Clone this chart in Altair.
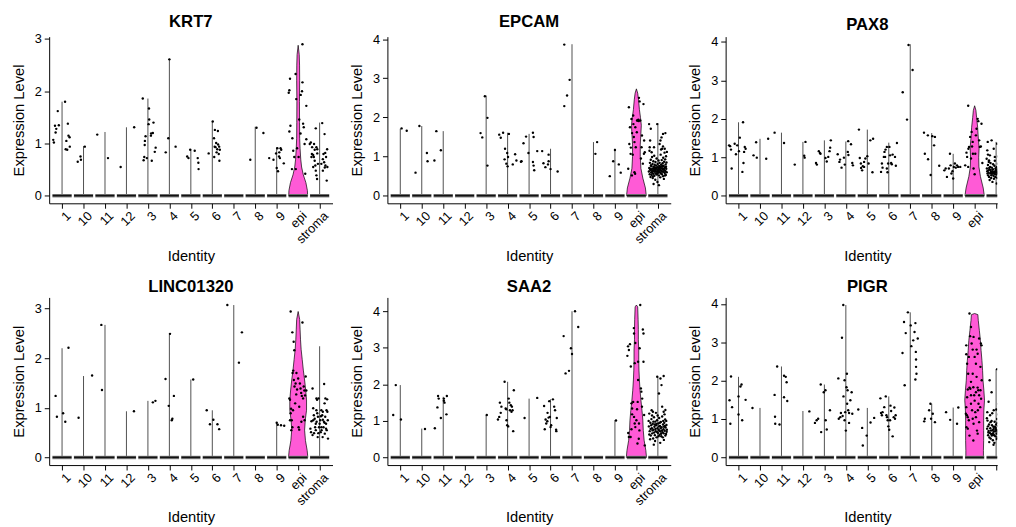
import altair as alt
import pandas as pd

GROUPS = ["1", "10", "11", "12", "3", "4", "5", "6", "7", "8", "9", "epi", "stroma"]
GENES = ["KRT7", "EPCAM", "PAX8", "LINC01320", "SAA2", "PIGR"]
EPI_COLOR = "#FF5AD6"

Y_TICKS = [[0, 1, 2, 3], [0, 1, 2, 3, 4], [0, 1, 2, 3, 4], [0, 1, 2, 3], [0, 1, 2, 3, 4], [0, 1, 2, 3, 4]]

# top of each group's (thin) violin, in GROUPS order
KRT7_MAX = [1.80, 0.95, 1.22, 1.31, 1.86, 2.62, 0.89, 1.43, 0.0, 1.32, 0.93, 2.88, 1.40]
EPCAM_MAX = [1.71, 1.78, 1.65, 0.0, 2.56, 1.61, 1.58, 1.20, 3.87, 1.37, 1.20, 2.73, 1.85]
PAX8_MAX = [1.91, 1.48, 1.64, 1.40, 1.44, 1.41, 1.72, 1.38, 3.94, 1.63, 1.09, 2.34, 1.40]
LINC_MAX = [2.20, 1.64, 2.67, 0.93, 1.14, 2.49, 1.57, 0.95, 3.07, 0.0, 0.70, 2.94, 2.24]
SAA2_MAX = [1.98, 0.79, 1.66, 0.0, 1.16, 2.07, 1.61, 1.59, 4.00, 0.0, 1.02, 4.17, 2.21]
PIGR_MAX = [2.10, 1.29, 2.37, 1.21, 1.90, 3.97, 1.29, 1.59, 3.78, 1.40, 1.30, 3.75, 2.30]

# epi violin outline: (expression, half width in group units)
KRT7_EPI = [(0, 0.44), (0.1, 0.43), (0.25, 0.36), (0.4, 0.24), (0.55, 0.16), (0.7, 0.12), (0.9, 0.09),
            (1.1, 0.07), (1.4, 0.065), (1.8, 0.06), (2.2, 0.07), (2.5, 0.065), (2.7, 0.05), (2.88, 0.0)]
EPCAM_EPI = [(0, 0.46), (0.2, 0.42), (0.45, 0.30), (0.7, 0.21), (1.0, 0.18), (1.3, 0.18), (1.6, 0.21),
             (1.8, 0.23), (2.0, 0.19), (2.2, 0.14), (2.45, 0.10), (2.62, 0.06), (2.73, 0.0)]
PAX8_EPI = [(0, 0.45), (0.2, 0.40), (0.5, 0.27), (0.75, 0.20), (1.0, 0.19), (1.25, 0.21), (1.5, 0.17),
            (1.78, 0.14), (2.04, 0.09), (2.22, 0.06), (2.34, 0.0)]
LINC_EPI = [(0, 0.45), (0.14, 0.42), (0.34, 0.34), (0.55, 0.30), (0.75, 0.33), (0.95, 0.39), (1.16, 0.39),
            (1.36, 0.35), (1.56, 0.30), (1.76, 0.24), (1.97, 0.19), (2.17, 0.14), (2.37, 0.11),
            (2.57, 0.09), (2.78, 0.07), (2.94, 0.0)]
SAA2_EPI = [(0, 0.47), (0.19, 0.44), (0.47, 0.36), (0.74, 0.32), (1.02, 0.30), (1.29, 0.26), (1.57, 0.21),
            (1.84, 0.17), (2.12, 0.14), (2.39, 0.12), (2.67, 0.11), (2.94, 0.11), (3.22, 0.09),
            (3.50, 0.09), (3.77, 0.08), (4.12, 0.06), (4.17, 0.0)]
PIGR_EPI = [(0, 0.41), (0.18, 0.41), (0.44, 0.42), (0.70, 0.42), (0.97, 0.42), (1.23, 0.43), (1.49, 0.46),
            (1.75, 0.43), (2.01, 0.39), (2.27, 0.37), (2.53, 0.34), (2.79, 0.30), (3.05, 0.27),
            (3.31, 0.22), (3.57, 0.17), (3.72, 0.15), (3.75, 0.0)]

# jittered cells: (group, jitter offset in group units, expression)
KRT7_PTS = [
    ("1", -0.41, 1.07), ("1", -0.38, 1.02), ("1", -0.33, 1.34), ("1", -0.30, 1.21), ("1", -0.27, 1.28),
    ("1", -0.20, 1.62), ("1", -0.15, 1.35), ("1", 0.14, 1.80), ("1", 0.20, 1.05), ("1", 0.24, 0.88),
    ("1", 0.27, 1.38), ("1", 0.30, 1.15), ("1", 0.35, 1.12), ("1", 0.17, 0.89), ("1", 0.36, 0.94),
    ("10", -0.27, 0.65), ("10", -0.14, 0.75), ("10", -0.12, 0.69), ("10", 0.06, 0.94),
    ("11", -0.36, 1.17), ("11", 0.14, 0.72),
    ("12", -0.27, 0.55), ("12", 0.36, 1.31),
    ("3", -0.24, 1.86), ("3", -0.20, 0.68), ("3", -0.17, 0.74), ("3", -0.15, 0.97), ("3", -0.14, 1.05),
    ("3", -0.11, 1.14), ("3", -0.05, 0.72), ("3", 0.05, 1.67), ("3", 0.06, 1.46), ("3", 0.03, 1.37),
    ("3", 0.14, 1.15), ("3", 0.18, 0.67), ("3", 0.23, 1.20), ("3", 0.26, 1.40), ("3", 0.32, 0.84),
    ("3", 0.36, 0.92), ("3", 0.15, 1.19),
    ("4", -0.17, 0.83), ("4", -0.05, 1.10), ("4", 0.0, 2.61), ("4", 0.29, 0.94),
    ("5", -0.17, 0.75), ("5", -0.11, 0.72), ("5", -0.03, 0.88), ("5", 0.18, 0.86), ("5", 0.32, 0.72),
    ("5", 0.35, 0.63), ("5", 0.36, 0.51),
    ("6", -0.17, 0.81), ("6", 0.02, 1.42), ("6", 0.08, 1.10), ("6", 0.09, 0.74), ("6", 0.12, 1.26),
    ("6", 0.15, 0.93), ("6", 0.18, 1.01), ("6", 0.20, 0.83), ("6", 0.23, 0.89), ("6", 0.26, 1.24),
    ("6", 0.30, 0.80), ("6", 0.32, 0.94), ("6", 0.33, 0.67), ("6", 0.35, 0.88), ("6", 0.11, 0.94),
    ("6", 0.27, 0.98),
    ("8", -0.23, 0.69), ("8", 0.06, 1.30), ("8", 0.38, 1.20),
    ("9", -0.35, 0.72), ("9", -0.15, 0.69), ("9", -0.03, 0.81), ("9", 0.03, 0.91), ("9", 0.06, 0.47),
    ("9", 0.11, 0.75), ("9", 0.15, 0.72), ("9", 0.18, 0.91), ("9", 0.21, 0.88), ("9", 0.33, 0.62),
    ("9", 0.12, 0.83), ("9", 0.0, 0.53),
    ("epi", -0.38, 2.24), ("epi", -0.41, 2.02), ("epi", -0.44, 1.97), ("epi", -0.36, 1.34), ("epi", -0.41, 1.23),
    ("epi", -0.27, 1.10), ("epi", -0.29, 0.51), ("epi", -0.12, 2.33), ("epi", -0.09, 1.85), ("epi", -0.05, 0.91),
    ("epi", 0.05, 1.46), ("epi", 0.12, 1.93), ("epi", 0.20, 2.90), ("epi", 0.20, 2.17), ("epi", 0.18, 2.00),
    ("epi", 0.23, 1.38), ("epi", 0.26, 1.31), ("epi", 0.30, 0.99), ("epi", 0.33, 0.42), ("epi", 0.38, 1.72),
    ("epi", 0.38, 1.08), ("epi", -0.23, 0.86), ("epi", -0.18, 0.74), ("epi", 0.02, 0.74), ("epi", 0.11, 1.19),
    ("epi", -0.11, 0.51),
    ("stroma", -0.46, 0.99), ("stroma", -0.41, 1.02), ("stroma", -0.35, 0.93), ("stroma", -0.30, 0.78),
    ("stroma", -0.27, 0.74), ("stroma", -0.23, 0.88), ("stroma", -0.20, 0.58), ("stroma", -0.18, 0.48),
    ("stroma", -0.15, 0.39), ("stroma", -0.12, 0.32), ("stroma", -0.11, 0.81), ("stroma", -0.18, 1.29),
    ("stroma", -0.08, 0.61), ("stroma", -0.30, 0.55), ("stroma", -0.23, 0.67), ("stroma", -0.36, 0.80),
    ("stroma", -0.11, 0.89), ("stroma", 0.12, 1.39), ("stroma", 0.15, 0.70), ("stroma", 0.18, 0.80),
    ("stroma", 0.21, 0.64), ("stroma", 0.23, 1.18), ("stroma", 0.26, 0.82), ("stroma", 0.27, 0.58),
    ("stroma", 0.30, 0.74), ("stroma", 0.33, 0.29), ("stroma", 0.35, 0.89), ("stroma", 0.15, 0.48),
    ("stroma", 0.08, 0.61), ("stroma", 0.24, 0.54), ("stroma", 0.36, 0.55), ("stroma", -0.38, 0.74),
    ("stroma", -0.26, 0.99), ("stroma", -0.15, 0.93),
]

EPCAM_PTS = [
    ("1", 0.06, 1.72), ("1", 0.30, 1.66),
    ("10", -0.29, 0.59), ("10", -0.11, 1.78), ("10", 0.24, 1.09), ("10", 0.27, 0.88),
    ("11", -0.41, 0.90), ("11", -0.32, 1.65), ("11", -0.11, 1.16),
    ("3", -0.26, 1.60), ("3", -0.18, 1.49), ("3", -0.06, 2.54), ("3", 0.06, 1.99), ("3", 0.06, 0.77),
    ("4", -0.39, 1.56), ("4", -0.32, 1.48), ("4", -0.21, 1.61), ("4", -0.12, 1.20), ("4", -0.14, 0.93),
    ("4", -0.06, 0.82), ("4", -0.02, 1.09), ("4", 0.0, 0.75), ("4", 0.02, 0.99), ("4", 0.06, 1.58),
    ("4", 0.24, 0.80), ("4", 0.35, 1.06), ("4", 0.41, 0.90),
    ("5", -0.26, 1.34), ("5", -0.14, 1.51), ("5", -0.03, 1.09), ("5", 0.18, 1.61), ("5", 0.21, 1.50),
    ("5", 0.18, 0.86), ("5", 0.21, 0.77), ("5", 0.24, 0.65), ("5", 0.38, 1.14), ("5", -0.38, 0.87),
    ("5", -0.35, 0.88),
    ("6", -0.39, 1.14), ("6", -0.33, 0.83), ("6", -0.24, 0.73), ("6", -0.12, 0.80), ("6", -0.09, 0.88),
    ("6", 0.0, 0.68), ("6", 0.33, 0.62), ("6", -0.09, 1.05),
    ("7", -0.36, 3.86), ("7", -0.36, 2.29), ("7", -0.23, 2.56), ("7", -0.11, 2.96),
    ("8", 0.09, 1.07), ("8", 0.17, 1.37),
    ("9", -0.24, 0.50), ("9", -0.08, 0.88), ("9", 0.0, 1.17), ("9", 0.18, 0.80), ("9", 0.27, 0.59),
    ("epi", -0.38, 0.69), ("epi", -0.35, 2.26), ("epi", -0.30, 1.75), ("epi", -0.33, 1.32), ("epi", -0.26, 1.23),
    ("epi", -0.23, 1.96), ("epi", -0.20, 1.60), ("epi", -0.17, 1.05), ("epi", -0.14, 1.83), ("epi", -0.12, 1.50),
    ("epi", -0.09, 1.37), ("epi", -0.06, 0.56), ("epi", -0.03, 1.24), ("epi", 0.02, 1.62), ("epi", 0.03, 1.92),
    ("epi", 0.06, 1.92), ("epi", 0.09, 1.94), ("epi", 0.11, 1.91), ("epi", 0.12, 2.50), ("epi", 0.15, 2.41),
    ("epi", 0.18, 1.92), ("epi", 0.21, 0.95), ("epi", 0.24, 1.24), ("epi", 0.30, 0.82), ("epi", 0.33, 2.34),
    ("epi", 0.35, 1.07), ("epi", 0.39, 1.11), ("epi", -0.27, 1.07), ("epi", -0.21, 0.52), ("epi", -0.09, 0.60),
    ("epi", 0.26, 1.54), ("epi", 0.36, 1.41), ("epi", -0.05, 1.75), ("epi", -0.15, 2.05),
    ("stroma", -0.41, 1.83), ("stroma", -0.33, 1.71), ("stroma", -0.36, 1.41), ("stroma", -0.38, 1.24),
    ("stroma", -0.29, 1.11), ("stroma", 0.24, 1.58), ("stroma", 0.35, 1.60), ("stroma", 0.12, 1.41),
    ("stroma", 0.08, 1.32), ("stroma", 0.17, 1.49), ("stroma", -0.03, 1.83), ("stroma", 0.20, 1.20),
    ("stroma", 0.24, 1.26), ("stroma", 0.32, 1.20), ("stroma", -0.18, 1.24),
    ("stroma", -0.42, 0.62), ("stroma", -0.40, 0.71), ("stroma", -0.38, 0.55), ("stroma", -0.37, 0.84),
    ("stroma", -0.35, 0.66), ("stroma", -0.34, 0.48), ("stroma", -0.33, 0.92), ("stroma", -0.31, 0.60),
    ("stroma", -0.30, 0.75), ("stroma", -0.29, 0.53), ("stroma", -0.28, 0.68), ("stroma", -0.27, 0.99),
    ("stroma", -0.26, 0.58), ("stroma", -0.25, 0.81), ("stroma", -0.24, 0.45), ("stroma", -0.23, 0.70),
    ("stroma", -0.22, 0.63), ("stroma", -0.21, 0.88), ("stroma", -0.20, 0.56), ("stroma", -0.19, 0.74),
    ("stroma", -0.18, 0.66), ("stroma", -0.17, 1.02), ("stroma", -0.16, 0.51), ("stroma", -0.15, 0.79),
    ("stroma", -0.14, 0.61), ("stroma", -0.13, 0.72), ("stroma", -0.12, 0.41), ("stroma", -0.11, 0.86),
    ("stroma", -0.10, 0.64), ("stroma", -0.09, 0.57), ("stroma", -0.08, 0.77), ("stroma", -0.07, 0.69),
    ("stroma", -0.06, 0.95), ("stroma", -0.05, 0.54), ("stroma", -0.04, 0.62), ("stroma", -0.03, 0.73),
    ("stroma", -0.02, 0.35), ("stroma", -0.01, 0.81), ("stroma", 0.00, 0.66), ("stroma", 0.01, 0.59),
    ("stroma", 0.02, 0.71), ("stroma", 0.03, 0.90), ("stroma", 0.04, 0.63), ("stroma", 0.05, 0.52),
    ("stroma", 0.06, 0.76), ("stroma", 0.07, 0.68), ("stroma", 0.08, 0.84), ("stroma", 0.09, 0.60),
    ("stroma", 0.10, 0.73), ("stroma", 0.11, 0.47), ("stroma", 0.12, 0.66), ("stroma", 0.13, 1.05),
    ("stroma", 0.14, 0.57), ("stroma", 0.15, 0.79), ("stroma", 0.16, 0.64), ("stroma", 0.17, 0.70),
    ("stroma", 0.18, 0.91), ("stroma", 0.19, 0.55), ("stroma", 0.20, 0.74), ("stroma", 0.21, 0.62),
    ("stroma", 0.22, 0.83), ("stroma", 0.23, 0.68), ("stroma", 0.24, 0.50), ("stroma", 0.25, 0.97),
    ("stroma", 0.26, 0.61), ("stroma", 0.27, 0.76), ("stroma", 0.28, 0.43), ("stroma", 0.29, 0.87),
    ("stroma", 0.30, 0.65), ("stroma", 0.31, 1.10), ("stroma", 0.32, 0.58), ("stroma", 0.33, 0.72),
    ("stroma", 0.34, 0.93), ("stroma", 0.35, 0.63), ("stroma", 0.36, 0.80), ("stroma", 0.37, 0.53),
    ("stroma", 0.38, 1.01), ("stroma", 0.39, 0.69), ("stroma", 0.40, 0.85), ("stroma", 0.41, 0.60),
    ("stroma", 0.42, 1.12), ("stroma", -0.32, 0.78), ("stroma", -0.22, 0.49), ("stroma", -0.12, 0.68),
    ("stroma", -0.02, 0.58), ("stroma", 0.08, 0.71), ("stroma", 0.18, 0.62), ("stroma", 0.28, 0.69),
    ("stroma", -0.27, 0.63), ("stroma", -0.07, 0.56), ("stroma", 0.13, 0.74), ("stroma", 0.33, 0.52),
    ("stroma", -0.17, 0.70), ("stroma", 0.03, 0.64), ("stroma", 0.23, 0.77), ("stroma", -0.37, 0.69),
    ("stroma", 0.38, 0.74), ("stroma", 0.05, 0.27), ("stroma", -0.20, 0.30), ("stroma", 0.15, 1.18),
    ("stroma", -0.39, 1.15),
]

PAX8_PTS = [
    ("1", -0.44, 1.31), ("1", -0.39, 1.29), ("1", -0.35, 1.20), ("1", -0.32, 0.71), ("1", -0.18, 1.35),
    ("1", -0.12, 1.08), ("1", -0.06, 1.31), ("1", 0.02, 1.16), ("1", 0.06, 1.51), ("1", 0.21, 1.91),
    ("1", 0.18, 0.62), ("1", 0.23, 0.85), ("1", 0.26, 1.14), ("1", 0.29, 1.27), ("1", 0.33, 1.22),
    ("10", -0.30, 1.05), ("10", -0.18, 1.39), ("10", -0.15, 0.99), ("10", 0.29, 0.96), ("10", 0.38, 1.48),
    ("11", -0.32, 1.64), ("11", 0.12, 1.37),
    ("12", -0.38, 0.81), ("12", 0.06, 1.04), ("12", 0.08, 0.99), ("12", 0.12, 1.40),
    ("3", -0.39, 0.85), ("3", -0.35, 0.81), ("3", -0.26, 1.16), ("3", -0.21, 1.11), ("3", -0.18, 1.09),
    ("3", 0.05, 0.98), ("3", 0.11, 0.89), ("3", 0.18, 1.01), ("3", 0.27, 1.25), ("3", 0.30, 1.44),
    ("3", 0.24, 1.16),
    ("4", -0.38, 1.08), ("4", -0.30, 0.88), ("4", -0.27, 0.94), ("4", -0.20, 0.73), ("4", -0.09, 0.99),
    ("4", -0.05, 0.81), ("4", 0.09, 1.14), ("4", 0.11, 1.42), ("4", 0.12, 1.06), ("4", 0.24, 1.34),
    ("4", 0.30, 0.85), ("4", 0.33, 0.79),
    ("5", -0.39, 1.72), ("5", -0.35, 0.98), ("5", -0.29, 0.72), ("5", -0.24, 0.66), ("5", -0.21, 0.77),
    ("5", -0.15, 0.88), ("5", -0.09, 0.97), ("5", 0.0, 1.03), ("5", 0.06, 0.84), ("5", 0.14, 1.44),
    ("5", 0.24, 0.61), ("5", 0.27, 1.48), ("5", -0.30, 0.84), ("5", -0.15, 0.75),
    ("6", -0.36, 0.62), ("6", -0.32, 0.84), ("6", -0.29, 0.73), ("6", -0.23, 1.01), ("6", -0.20, 1.14),
    ("6", -0.15, 1.20), ("6", -0.09, 0.71), ("6", -0.06, 0.61), ("6", -0.03, 0.84), ("6", 0.03, 1.27),
    ("6", 0.06, 1.05), ("6", 0.11, 0.85), ("6", 0.14, 0.82), ("6", 0.18, 1.07), ("6", 0.29, 1.01),
    ("6", 0.33, 0.78), ("6", 0.38, 1.37), ("6", -0.17, 1.01), ("6", -0.09, 1.27),
    ("7", -0.35, 2.69), ("7", -0.15, 1.98), ("7", -0.08, 3.92), ("7", 0.11, 3.27),
    ("8", -0.36, 1.64), ("8", -0.32, 1.09), ("8", -0.17, 0.95), ("8", -0.18, 1.57), ("8", -0.05, 0.54),
    ("8", 0.03, 1.55), ("8", 0.11, 1.31), ("8", 0.15, 1.53), ("8", 0.35, 0.78),
    ("9", -0.41, 0.66), ("9", -0.35, 0.71), ("9", -0.29, 0.49), ("9", -0.20, 0.71), ("9", -0.15, 1.09),
    ("9", -0.08, 0.58), ("9", -0.03, 0.64), ("9", 0.03, 0.75), ("9", 0.08, 0.84), ("9", 0.12, 0.73),
    ("9", 0.18, 0.79), ("9", 0.23, 0.75), ("9", 0.33, 0.75), ("9", -0.12, 0.79), ("9", 0.0, 0.45),
    ("epi", -0.44, 0.79), ("epi", -0.38, 1.12), ("epi", -0.35, 1.01), ("epi", -0.30, 2.34), ("epi", -0.29, 1.22),
    ("epi", -0.26, 1.27), ("epi", -0.21, 1.53), ("epi", -0.17, 0.97), ("epi", -0.14, 1.66), ("epi", -0.12, 1.28),
    ("epi", -0.08, 1.09), ("epi", -0.05, 0.71), ("epi", 0.0, 0.56), ("epi", 0.03, 1.09), ("epi", 0.06, 1.57),
    ("epi", 0.09, 1.74), ("epi", 0.14, 2.00), ("epi", 0.17, 1.94), ("epi", 0.21, 1.44), ("epi", 0.24, 1.27),
    ("epi", 0.29, 1.28), ("epi", 0.32, 1.87), ("epi", 0.36, 0.85), ("epi", -0.09, 1.40), ("epi", -0.30, 0.75),
    ("stroma", -0.41, 1.18), ("stroma", -0.33, 0.92), ("stroma", -0.38, 1.07), ("stroma", 0.05, 1.35),
    ("stroma", 0.15, 1.29), ("stroma", 0.27, 1.27), ("stroma", -0.21, 1.44), ("stroma", -0.11, 1.22),
    ("stroma", -0.06, 1.01), ("stroma", -0.39, 1.40),
    ("stroma", -0.40, 0.58), ("stroma", -0.36, 0.66), ("stroma", -0.12, 0.52), ("stroma", 0.22, 0.61),
    ("stroma", 0.05, 0.47), ("stroma", -0.28, 0.75), ("stroma", 0.31, 0.55), ("stroma", -0.05, 0.63),
    ("stroma", 0.14, 0.70), ("stroma", -0.33, 0.49), ("stroma", 0.38, 0.64), ("stroma", -0.19, 0.57),
    ("stroma", 0.09, 0.83), ("stroma", -0.24, 0.62), ("stroma", 0.26, 0.50), ("stroma", -0.02, 0.56),
    ("stroma", 0.18, 0.59), ("stroma", -0.38, 0.80), ("stroma", 0.34, 0.72), ("stroma", -0.15, 0.69),
    ("stroma", 0.02, 0.74), ("stroma", -0.30, 0.41), ("stroma", 0.11, 0.45), ("stroma", -0.08, 0.78),
    ("stroma", 0.29, 0.66), ("stroma", -0.22, 0.53), ("stroma", 0.20, 0.78), ("stroma", -0.43, 0.71),
    ("stroma", 0.07, 0.60), ("stroma", -0.10, 0.44), ("stroma", 0.36, 0.58), ("stroma", -0.26, 0.85),
    ("stroma", 0.16, 0.52), ("stroma", -0.35, 0.60), ("stroma", 0.24, 0.88), ("stroma", -0.01, 0.67),
    ("stroma", -0.17, 0.36), ("stroma", 0.32, 0.48), ("stroma", 0.12, 0.63), ("stroma", -0.31, 0.68),
    ("stroma", 0.04, 0.55), ("stroma", -0.06, 0.91), ("stroma", 0.27, 0.62), ("stroma", -0.20, 0.73),
    ("stroma", 0.40, 0.54), ("stroma", -0.13, 0.60), ("stroma", 0.19, 0.43), ("stroma", -0.37, 0.53),
    ("stroma", 0.08, 0.69), ("stroma", -0.27, 0.58), ("stroma", 0.35, 0.81), ("stroma", -0.04, 0.49),
    ("stroma", 0.23, 0.70), ("stroma", -0.16, 0.64), ("stroma", 0.13, 0.57), ("stroma", -0.41, 0.64),
    ("stroma", 0.30, 0.60), ("stroma", -0.09, 0.57), ("stroma", 0.01, 0.61), ("stroma", -0.23, 0.46),
    ("stroma", 0.17, 0.66), ("stroma", -0.32, 0.72), ("stroma", 0.25, 0.56), ("stroma", -0.14, 0.82),
    ("stroma", 0.06, 0.65), ("stroma", 0.33, 0.40), ("stroma", -0.25, 0.67), ("stroma", 0.10, 0.58),
    ("stroma", -0.03, 0.71), ("stroma", 0.21, 0.51), ("stroma", -0.18, 0.60), ("stroma", 0.37, 0.69),
    ("stroma", -0.07, 0.62), ("stroma", 0.15, 0.95), ("stroma", -0.34, 0.88), ("stroma", 0.28, 0.98),
    ("stroma", 0.03, 0.32), ("stroma", -0.29, 1.05), ("stroma", 0.10, 1.02), ("stroma", -0.44, 0.96),
]

LINC_PTS = [
    ("1", -0.30, 1.24), ("1", -0.24, 0.82), ("1", 0.05, 0.89), ("1", 0.15, 0.72), ("1", 0.30, 2.21),
    ("10", -0.23, 0.80), ("10", 0.40, 1.65),
    ("11", -0.14, 1.36), ("11", -0.17, 2.67),
    ("12", 0.35, 0.93),
    ("3", 0.23, 1.11), ("3", 0.35, 1.14),
    ("4", -0.18, 1.58), ("4", -0.03, 1.04), ("4", 0.03, 2.49), ("4", 0.14, 0.78), ("4", 0.11, 0.75),
    ("4", 0.21, 1.24),
    ("5", 0.11, 1.57),
    ("6", -0.26, 0.95), ("6", -0.11, 0.67), ("6", 0.05, 0.76), ("6", 0.24, 0.67), ("6", 0.32, 0.57),
    ("7", -0.30, 3.07), ("7", 0.24, 1.91), ("7", 0.38, 2.52),
    ("9", 0.0, 0.70), ("9", 0.05, 0.66), ("9", 0.20, 0.65), ("9", 0.35, 0.64),
    ("epi", -0.35, 2.94), ("epi", -0.27, 2.52), ("epi", -0.21, 2.33), ("epi", -0.18, 2.16), ("epi", -0.23, 1.75),
    ("epi", -0.26, 1.70), ("epi", -0.20, 1.56), ("epi", -0.17, 1.43), ("epi", -0.12, 1.49), ("epi", -0.41, 1.19),
    ("epi", -0.38, 1.16), ("epi", -0.35, 0.89), ("epi", -0.30, 0.75), ("epi", -0.27, 0.61), ("epi", -0.33, 0.98),
    ("epi", -0.24, 0.95), ("epi", -0.09, 1.27), ("epi", -0.05, 1.37), ("epi", 0.0, 1.59), ("epi", 0.05, 1.02),
    ("epi", 0.02, 0.61), ("epi", 0.05, 0.56), ("epi", 0.08, 1.49), ("epi", 0.11, 1.39), ("epi", 0.14, 1.30),
    ("epi", 0.17, 1.24), ("epi", 0.20, 2.72), ("epi", 0.23, 1.19), ("epi", 0.26, 1.43), ("epi", 0.29, 1.35),
    ("epi", 0.32, 1.25), ("epi", 0.35, 1.63), ("epi", 0.38, 1.35), ("epi", 0.30, 0.75), ("epi", 0.23, 0.82),
    ("epi", -0.14, 1.09), ("epi", -0.08, 1.70), ("epi", -0.38, 0.75), ("epi", -0.32, 0.55), ("epi", 0.15, 0.72),
    ("stroma", -0.43, 0.58), ("stroma", -0.40, 0.51), ("stroma", -0.33, 1.39), ("stroma", -0.30, 0.99),
    ("stroma", -0.27, 0.85), ("stroma", -0.23, 0.78), ("stroma", -0.21, 0.61), ("stroma", -0.18, 0.68),
    ("stroma", -0.15, 1.19), ("stroma", -0.12, 1.16), ("stroma", -0.11, 0.89), ("stroma", -0.09, 0.41),
    ("stroma", -0.06, 0.49), ("stroma", -0.03, 0.61), ("stroma", -0.14, 0.72), ("stroma", -0.18, 0.55),
    ("stroma", -0.26, 0.49), ("stroma", -0.05, 1.19), ("stroma", 0.0, 0.68), ("stroma", 0.03, 0.75),
    ("stroma", 0.06, 0.83), ("stroma", 0.08, 0.61), ("stroma", 0.09, 0.55), ("stroma", 0.12, 0.85),
    ("stroma", 0.14, 0.41), ("stroma", 0.15, 0.92), ("stroma", 0.18, 0.61), ("stroma", 0.20, 0.72),
    ("stroma", 0.21, 1.48), ("stroma", 0.23, 1.09), ("stroma", 0.24, 0.48), ("stroma", 0.26, 0.82),
    ("stroma", 0.27, 1.19), ("stroma", 0.30, 0.68), ("stroma", 0.32, 0.95), ("stroma", 0.33, 0.55),
    ("stroma", 0.35, 1.17), ("stroma", 0.38, 0.75), ("stroma", 0.39, 0.38), ("stroma", 0.36, 0.92),
    ("stroma", -0.15, 0.95), ("stroma", -0.08, 0.82), ("stroma", -0.33, 0.45), ("stroma", -0.30, 0.75),
    ("stroma", 0.08, 0.95), ("stroma", 0.15, 0.76), ("stroma", 0.05, 0.51), ("stroma", -0.38, 0.73),
    ("stroma", 0.23, 0.70), ("stroma", 0.30, 0.58),
]

SAA2_PTS = [
    ("1", -0.33, 1.16), ("1", -0.21, 1.98), ("1", 0.03, 1.04),
    ("10", 0.15, 0.78),
    ("11", -0.39, 0.80), ("11", -0.27, 1.37), ("11", -0.24, 1.68), ("11", -0.21, 1.61), ("11", -0.11, 1.08),
    ("11", 0.03, 1.55), ("11", 0.06, 1.50), ("11", 0.15, 1.18), ("11", 0.17, 1.68), ("11", 0.03, 1.61),
    ("3", 0.03, 1.16),
    ("4", -0.45, 1.04), ("4", -0.39, 1.11), ("4", -0.36, 1.50), ("4", -0.32, 1.22), ("4", -0.29, 1.39),
    ("4", -0.14, 2.07), ("4", -0.09, 1.34), ("4", -0.05, 1.02), ("4", -0.02, 0.88), ("4", 0.03, 0.85),
    ("4", 0.05, 1.61), ("4", 0.08, 1.50), ("4", 0.11, 1.29), ("4", 0.15, 1.43), ("4", 0.18, 1.25),
    ("4", 0.20, 1.39), ("4", 0.23, 1.29), ("4", 0.26, 0.72), ("4", 0.29, 1.84), ("4", -0.06, 1.32),
    ("5", -0.21, 1.08), ("5", 0.38, 1.63),
    ("6", -0.30, 1.41), ("6", -0.27, 0.77), ("6", -0.23, 1.04), ("6", -0.20, 0.93), ("6", -0.15, 0.99),
    ("6", -0.09, 1.09), ("6", -0.06, 1.54), ("6", -0.03, 1.11), ("6", 0.03, 0.88), ("6", 0.11, 1.59),
    ("6", 0.17, 1.39), ("6", 0.21, 1.29), ("6", 0.26, 0.76), ("6", 0.27, 0.72), ("6", 0.29, 1.08),
    ("6", 0.0, 0.83), ("6", -0.14, 1.22),
    ("7", -0.39, 3.32), ("7", -0.30, 2.30), ("7", -0.14, 2.37), ("7", -0.05, 2.99), ("7", 0.0, 2.83),
    ("7", 0.14, 4.00), ("7", 0.29, 3.57),
    ("9", 0.05, 1.01),
    ("epi", -0.42, 2.78), ("epi", -0.39, 3.04), ("epi", -0.35, 2.94), ("epi", -0.30, 3.10), ("epi", -0.26, 2.49),
    ("epi", -0.23, 1.48), ("epi", -0.20, 1.34), ("epi", -0.20, 1.18), ("epi", -0.38, 0.67), ("epi", -0.35, 0.56),
    ("epi", -0.27, 0.56), ("epi", -0.23, 0.77), ("epi", -0.12, 3.54), ("epi", -0.11, 3.39), ("epi", -0.08, 2.58),
    ("epi", -0.05, 3.13), ("epi", -0.08, 0.93), ("epi", -0.05, 0.83), ("epi", 0.0, 1.02), ("epi", 0.03, 1.32),
    ("epi", 0.06, 1.52), ("epi", 0.08, 2.12), ("epi", 0.08, 2.62), ("epi", 0.11, 0.51), ("epi", 0.14, 0.74),
    ("epi", 0.15, 2.99), ("epi", 0.18, 4.17), ("epi", 0.21, 1.89), ("epi", 0.23, 1.80), ("epi", 0.26, 1.39),
    ("epi", 0.27, 1.61), ("epi", 0.30, 3.50), ("epi", 0.33, 3.39), ("epi", 0.33, 2.62), ("epi", 0.36, 1.16),
    ("epi", 0.39, 0.33), ("epi", -0.15, 1.52), ("epi", -0.11, 1.11), ("epi", 0.12, 0.93), ("epi", 0.05, 0.38),
    ("stroma", -0.03, 2.21), ("stroma", 0.05, 1.75), ("stroma", 0.12, 2.16), ("stroma", 0.17, 1.98),
    ("stroma", 0.27, 2.23), ("stroma", -0.29, 1.29), ("stroma", -0.23, 1.25), ("stroma", 0.20, 1.39),
    ("stroma", 0.27, 1.25), ("stroma", 0.35, 1.30), ("stroma", -0.40, 1.20),
    ("stroma", -0.42, 0.85), ("stroma", 0.24, 0.90), ("stroma", -0.35, 0.95), ("stroma", 0.10, 0.86),
    ("stroma", -0.30, 1.05), ("stroma", 0.36, 0.82), ("stroma", -0.26, 0.66), ("stroma", 0.02, 0.93),
    ("stroma", -0.22, 0.52), ("stroma", 0.30, 0.95), ("stroma", -0.18, 1.10), ("stroma", 0.14, 0.97),
    ("stroma", -0.14, 0.61), ("stroma", 0.40, 0.89), ("stroma", -0.10, 0.72), ("stroma", 0.06, 1.08),
    ("stroma", -0.06, 0.55), ("stroma", 0.20, 1.12), ("stroma", -0.02, 0.80), ("stroma", 0.32, 0.73),
    ("stroma", 0.00, 0.67), ("stroma", -0.38, 0.72), ("stroma", 0.04, 0.75), ("stroma", -0.33, 0.60),
    ("stroma", 0.08, 0.62), ("stroma", -0.28, 0.80), ("stroma", 0.12, 0.71), ("stroma", -0.24, 0.92),
    ("stroma", 0.16, 0.58), ("stroma", -0.20, 0.76), ("stroma", 0.18, 0.83), ("stroma", -0.16, 0.84),
    ("stroma", 0.22, 0.69), ("stroma", -0.12, 0.98), ("stroma", 0.26, 0.77), ("stroma", -0.08, 0.88),
    ("stroma", 0.28, 0.48), ("stroma", -0.04, 1.02), ("stroma", 0.34, 1.04), ("stroma", 0.38, 0.64),
    ("stroma", 0.42, 0.76), ("stroma", -0.40, 0.63), ("stroma", 0.09, 0.95), ("stroma", -0.31, 0.88),
    ("stroma", 0.19, 0.74), ("stroma", -0.21, 0.98), ("stroma", 0.29, 0.84), ("stroma", -0.11, 0.78),
    ("stroma", 0.39, 1.00), ("stroma", -0.01, 1.15), ("stroma", -0.36, 0.50), ("stroma", 0.05, 0.85),
    ("stroma", -0.25, 0.74), ("stroma", 0.15, 0.65), ("stroma", -0.15, 0.90), ("stroma", 0.25, 1.00),
    ("stroma", -0.05, 0.70), ("stroma", 0.35, 0.60), ("stroma", -0.27, 1.15), ("stroma", 0.03, 0.58),
    ("stroma", -0.17, 0.68), ("stroma", 0.13, 0.80), ("stroma", -0.07, 0.92), ("stroma", 0.23, 0.55),
    ("stroma", 0.33, 0.86), ("stroma", -0.34, 0.78), ("stroma", 0.07, 0.73), ("stroma", -0.13, 0.45),
    ("stroma", 0.27, 0.66), ("stroma", -0.19, 0.35), ("stroma", 0.11, 0.40), ("stroma", 0.31, 1.18),
    ("stroma", -0.09, 1.22), ("stroma", 0.41, 0.70), ("stroma", -0.43, 1.00),
]

PIGR_PTS = [
    ("1", -0.42, 1.49), ("1", -0.35, 2.11), ("1", -0.30, 1.31), ("1", -0.38, 0.88), ("1", 0.0, 1.59),
    ("1", 0.0, 1.12), ("1", 0.09, 1.85), ("1", 0.14, 1.90), ("1", 0.17, 0.97), ("1", 0.33, 1.50),
    ("10", -0.35, 1.29),
    ("11", -0.32, 1.63), ("11", -0.30, 1.06), ("11", -0.29, 0.88), ("11", -0.09, 0.86), ("11", -0.20, 2.37),
    ("11", 0.12, 2.13), ("11", 0.20, 2.10), ("11", 0.24, 1.96), ("11", 0.27, 1.47), ("11", 0.12, 1.57),
    ("12", 0.30, 1.20),
    ("3", -0.44, 0.90), ("3", -0.36, 0.97), ("3", -0.29, 1.01), ("3", -0.17, 1.90), ("3", -0.15, 0.66),
    ("3", -0.03, 1.70), ("3", 0.05, 1.75), ("3", 0.06, 0.97), ("3", 0.11, 0.73), ("3", 0.26, 1.23),
    ("4", -0.35, 2.06), ("4", -0.33, 1.01), ("4", -0.26, 1.05), ("4", -0.23, 1.16), ("4", -0.18, 3.12),
    ("4", -0.15, 1.08), ("4", -0.12, 3.97), ("4", -0.11, 1.59), ("4", -0.06, 2.01), ("4", -0.06, 0.97),
    ("4", -0.03, 1.18), ("4", 0.0, 0.70), ("4", 0.05, 2.18), ("4", 0.06, 1.40), ("4", 0.11, 1.23),
    ("4", 0.15, 0.90), ("4", 0.21, 1.49), ("4", 0.27, 1.70), ("4", 0.30, 1.14), ("4", 0.03, 1.83),
    ("4", 0.08, 1.75), ("4", 0.15, 1.16),
    ("5", -0.42, 1.25), ("5", -0.24, 0.77), ("5", -0.21, 0.31), ("5", -0.03, 0.57), ("5", 0.15, 0.91),
    ("5", 0.32, 1.03),
    ("6", -0.39, 1.54), ("6", -0.36, 1.16), ("6", -0.32, 1.10), ("6", -0.29, 1.18), ("6", -0.21, 1.31),
    ("6", -0.14, 1.59), ("6", -0.11, 1.10), ("6", -0.08, 1.05), ("6", -0.05, 0.97), ("6", -0.02, 0.81),
    ("6", 0.02, 0.72), ("6", 0.06, 0.97), ("6", 0.11, 1.21), ("6", 0.18, 0.55), ("6", 0.23, 1.05),
    ("6", 0.26, 1.30), ("6", 0.29, 1.01), ("6", 0.32, 1.10), ("6", 0.08, 1.35),
    ("7", -0.36, 2.72), ("7", -0.29, 3.53), ("7", -0.26, 1.88), ("7", -0.21, 3.24), ("7", -0.11, 3.78),
    ("7", 0.02, 3.44), ("7", 0.05, 2.90), ("7", 0.14, 3.05), ("7", 0.20, 3.27), ("7", 0.24, 3.50),
    ("7", 0.26, 2.75), ("7", 0.27, 2.55), ("7", 0.29, 2.18), ("7", 0.27, 2.36), ("7", 0.24, 2.03),
    ("7", 0.35, 3.10),
    ("8", -0.35, 0.94), ("8", -0.32, 1.01), ("8", -0.12, 1.23), ("8", -0.06, 1.40), ("8", -0.03, 1.01),
    ("8", 0.05, 1.14), ("8", 0.15, 0.92),
    ("9", -0.33, 1.18), ("9", -0.14, 0.98), ("9", 0.18, 0.88), ("9", 0.24, 1.30),
    ("epi", -0.24, 3.75), ("epi", -0.17, 3.40), ("epi", -0.21, 3.16), ("epi", -0.14, 2.97), ("epi", -0.39, 2.92),
    ("epi", -0.39, 2.69), ("epi", -0.35, 2.44), ("epi", -0.27, 2.62), ("epi", -0.09, 2.81), ("epi", -0.05, 3.14),
    ("epi", 0.0, 2.62), ("epi", 0.06, 2.44), ("epi", 0.09, 2.81), ("epi", 0.14, 2.70), ("epi", 0.21, 3.10),
    ("epi", 0.29, 2.97), ("epi", 0.32, 2.92), ("epi", -0.09, 2.18), ("epi", -0.17, 1.97), ("epi", -0.32, 1.77),
    ("epi", -0.24, 1.82), ("epi", -0.20, 1.79), ("epi", -0.06, 1.83), ("epi", 0.06, 1.70), ("epi", 0.14, 1.82),
    ("epi", 0.17, 1.75), ("epi", 0.21, 1.62), ("epi", 0.27, 1.75), ("epi", 0.33, 2.01), ("epi", -0.35, 1.57),
    ("epi", -0.39, 1.31), ("epi", -0.41, 1.14), ("epi", -0.36, 1.10), ("epi", -0.32, 1.05), ("epi", -0.27, 0.97),
    ("epi", -0.38, 0.79), ("epi", -0.32, 0.75), ("epi", -0.17, 1.40), ("epi", -0.12, 1.23), ("epi", -0.09, 1.01),
    ("epi", -0.05, 0.88), ("epi", 0.0, 1.48), ("epi", 0.03, 1.18), ("epi", 0.06, 1.05), ("epi", 0.11, 0.70),
    ("epi", 0.15, 1.23), ("epi", 0.18, 1.40), ("epi", 0.21, 0.92), ("epi", 0.26, 1.31), ("epi", 0.30, 1.53),
    ("epi", -0.24, 0.57), ("epi", -0.06, 0.44), ("epi", 0.14, 0.62), ("epi", -0.17, 1.62), ("epi", -0.02, 1.62),
    ("epi", 0.09, 2.10), ("epi", -0.30, 2.18), ("epi", 0.27, 2.36),
    ("stroma", -0.30, 2.01), ("stroma", -0.21, 1.70), ("stroma", 0.05, 2.30), ("stroma", -0.41, 1.18),
    ("stroma", 0.17, 1.49), ("stroma", 0.27, 1.57), ("stroma", 0.35, 1.79), ("stroma", -0.11, 1.23),
    ("stroma", 0.12, 1.40), ("stroma", 0.25, 1.35), ("stroma", -0.35, 1.45),
    ("stroma", -0.42, 0.75), ("stroma", 0.21, 0.66), ("stroma", -0.37, 0.58), ("stroma", 0.09, 0.82),
    ("stroma", -0.33, 0.86), ("stroma", 0.31, 0.70), ("stroma", -0.29, 0.64), ("stroma", -0.02, 0.77),
    ("stroma", -0.25, 0.49), ("stroma", 0.36, 0.91), ("stroma", -0.21, 0.95), ("stroma", 0.14, 0.55),
    ("stroma", -0.17, 0.71), ("stroma", 0.02, 0.62), ("stroma", -0.13, 0.80), ("stroma", 0.26, 0.78),
    ("stroma", -0.09, 0.58), ("stroma", 0.05, 1.00), ("stroma", -0.05, 0.68), ("stroma", 0.18, 0.87),
    ("stroma", -0.40, 0.96), ("stroma", 0.11, 0.72), ("stroma", -0.35, 0.69), ("stroma", 0.23, 0.59),
    ("stroma", -0.31, 0.52), ("stroma", 0.33, 0.64), ("stroma", -0.27, 0.76), ("stroma", 0.07, 0.52),
    ("stroma", -0.23, 0.61), ("stroma", 0.39, 0.73), ("stroma", -0.19, 0.84), ("stroma", 0.16, 0.69),
    ("stroma", -0.15, 0.45), ("stroma", 0.00, 0.86), ("stroma", -0.11, 0.74), ("stroma", 0.28, 0.83),
    ("stroma", -0.07, 0.93), ("stroma", 0.12, 0.60), ("stroma", -0.03, 0.55), ("stroma", 0.20, 0.75),
    ("stroma", -0.38, 0.81), ("stroma", 0.30, 0.50), ("stroma", -0.26, 0.92), ("stroma", 0.04, 0.70),
    ("stroma", -0.14, 0.63), ("stroma", 0.24, 0.96), ("stroma", -0.06, 0.80), ("stroma", 0.35, 0.57),
    ("stroma", -0.32, 0.40), ("stroma", 0.08, 0.66), ("stroma", -0.20, 0.57), ("stroma", 0.15, 0.78),
    ("stroma", -0.10, 0.68), ("stroma", 0.27, 0.62), ("stroma", -0.01, 0.72), ("stroma", 0.38, 0.85),
    ("stroma", -0.24, 0.70), ("stroma", 0.13, 0.89), ("stroma", -0.16, 0.60), ("stroma", 0.03, 0.48),
    ("stroma", -0.36, 0.65), ("stroma", 0.22, 0.73), ("stroma", -0.08, 0.38), ("stroma", 0.32, 1.05),
    ("stroma", -0.28, 1.10), ("stroma", 0.10, 1.12), ("stroma", -0.12, 0.33), ("stroma", 0.19, 0.42),
    ("stroma", -0.43, 1.02), ("stroma", 0.01, 1.25), ("stroma", -0.18, 1.15), ("stroma", 0.06, 0.90),
]

MAXES = [KRT7_MAX, EPCAM_MAX, PAX8_MAX, LINC_MAX, SAA2_MAX, PIGR_MAX]
EPIS = [KRT7_EPI, EPCAM_EPI, PAX8_EPI, LINC_EPI, SAA2_EPI, PIGR_EPI]
PTS = [KRT7_PTS, EPCAM_PTS, PAX8_PTS, LINC_PTS, SAA2_PTS, PIGR_PTS]

FONT = "Liberation Sans"
GIDX = {g: i + 1 for i, g in enumerate(GROUPS)}
EPI_I = GIDX["epi"]
FULL_W = 289                      # full panel width
SPAN = len(GROUPS) + 0.2          # discrete axis with 0.6 expansion on both sides
RIGHT_W = 277                     # the right column is cut off by the window edge


def label_expr(n_shown):
    shown = [g if i < n_shown else "" for i, g in enumerate(GROUPS)]
    return "[" + ",".join("'" + g + "'" for g in shown) + "][datum.value - 1]"


def panel(gene, maxes, prof, pts, ticks, h, w):
    ymax = max(max(maxes), max(p[2] for p in pts))
    ys = alt.Scale(domain=[-0.05 * ymax, 1.05 * ymax], nice=False, zero=False)
    xs = alt.Scale(domain=[0.4, 0.4 + SPAN * w / FULL_W], nice=False, zero=False)
    # labels whose text would run past the window edge are not drawn
    n_shown = len(GROUPS) if w == FULL_W else len(GROUPS) - 1
    xa = alt.Axis(values=list(range(1, len(GROUPS) + 1)), labelExpr=label_expr(n_shown), labelAngle=315,
                  labelAlign="right", labelBaseline="top", labelOffset=2, labelPadding=1,
                  labelOverlap=False, labelFlush=False, title="Identity",
                  titleX=FULL_W / 2, titleY=58, titleBaseline="alphabetic", titleAlign="center")
    ya = alt.Axis(values=ticks, format="d", title="Expression Level", labelPadding=3, titlePadding=8)

    def X(f):
        return alt.X(f, type="quantitative", scale=xs, axis=xa)

    def Y(f):
        return alt.Y(f, type="quantitative", scale=ys, axis=ya)

    gdf = pd.DataFrame({"g": GROUPS, "gi": list(range(1, len(GROUPS) + 1)), "mx": maxes})
    vlines = (alt.Chart(gdf)
              .transform_filter("datum.mx > 0 && datum.g != 'epi'")
              .transform_calculate(y0="0")
              .mark_rule(color="#3a3a3a", strokeWidth=0.9, clip=True)
              .encode(x=X("gi"), y=Y("y0"), y2="mx:Q"))
    pdf = pd.DataFrame(prof, columns=["v", "hw"])
    area = (alt.Chart(pdf)
            .transform_calculate(xl=f"{EPI_I} - datum.hw", xr=f"{EPI_I} + datum.hw")
            .mark_area(orient="horizontal", fill=EPI_COLOR, fillOpacity=1, stroke="black",
                       strokeWidth=0.7, clip=True)
            .encode(y=Y("v"), x=X("xl"), x2="xr:Q"))
    zero_outer = (alt.Chart(gdf)
                  .transform_calculate(x1="datum.gi - 0.45", x2="datum.gi + 0.45", y0="0")
                  .mark_rule(color="#8a8a8a", strokeWidth=3.6, clip=True)
                  .encode(x=X("x1"), x2="x2:Q", y=Y("y0")))
    zero_inner = (alt.Chart(gdf)
                  .transform_calculate(x1="datum.gi - 0.44", x2="datum.gi + 0.44", y0="0")
                  .mark_rule(color="#111111", strokeWidth=1.8, clip=True)
                  .encode(x=X("x1"), x2="x2:Q", y=Y("y0")))
    pdf2 = pd.DataFrame(pts, columns=["g", "j", "v"])
    pdf2["gi"] = pdf2["g"].map(GIDX)
    dots = (alt.Chart(pdf2)
            .transform_calculate(xp="datum.gi + datum.j")
            .mark_circle(size=6, color="black", opacity=1, clip=True)
            .encode(x=X("xp"), y=Y("v")))
    return alt.layer(vlines, area, zero_outer, zero_inner, dots).properties(
        width=w, height=h,
        title=alt.TitleParams(gene, fontSize=17, fontWeight="bold", font=FONT, anchor="start",
                              frame="group", dx=FULL_W / 2, align="center", offset=2, color="black"))


panels = [panel(GENES[i], MAXES[i], EPIS[i], PTS[i], Y_TICKS[i], 170 if i < 3 else 171,
                RIGHT_W if i % 3 == 2 else FULL_W) for i in range(6)]

chart = alt.vconcat(
    alt.hconcat(*panels[:3], spacing=17),
    alt.hconcat(*panels[3:], spacing=17),
    spacing=15,
).properties(
    padding={"left": 3, "top": 0, "right": 0, "bottom": 0}
).configure_view(stroke=None).configure_axis(
    grid=False, domainColor="black", domainWidth=1, tickColor="black", tickSize=5, tickWidth=1,
    labelFont=FONT, labelFontSize=13, labelColor="black",
    titleFont=FONT, titleFontSize=15, titleFontWeight="normal", titleColor="black",
).configure_title(font=FONT)

chart.save("out.html", embed_options={"renderer": "svg", "actions": False})
